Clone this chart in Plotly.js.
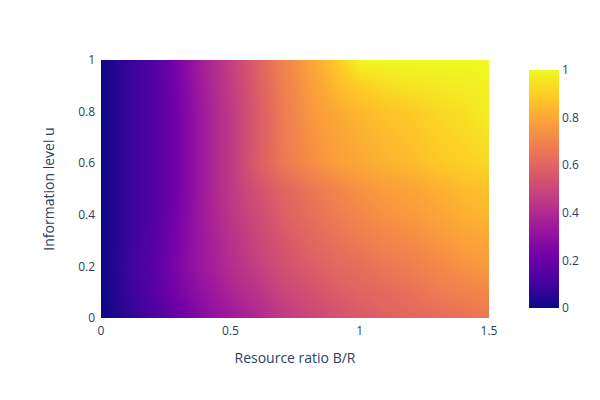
<!DOCTYPE html>
<html>
<head>
<meta charset="utf-8">
<script src="https://cdn.plot.ly/plotly-3.0.1.min.js"></script>
<style>html,body{margin:0;padding:0;background:#fff;}#chart{width:600px;height:400px;}</style>
</head>
<body>
<div id="chart"></div>
<script>
// Resource ratio B/R (x) and information level u (y)
const ratioBR = [0, 0.1, 0.2, 0.3, 0.4, 0.5, 0.6, 0.7, 0.8, 0.9, 1.0, 1.1, 1.2, 1.3, 1.4, 1.5];
const infoU = [0, 0.1, 0.2, 0.3, 0.4, 0.5, 0.6, 0.7, 0.8, 0.9, 1.0];

// rows by u, columns by B/R
const u00 = [0, 0.06, 0.12, 0.20, 0.28, 0.34, 0.39, 0.45, 0.49, 0.53, 0.56, 0.59, 0.61, 0.62, 0.64, 0.66];
const u01 = [0, 0.08, 0.15, 0.24, 0.31, 0.38, 0.43, 0.49, 0.53, 0.57, 0.60, 0.62, 0.64, 0.67, 0.69, 0.71];
const u02 = [0, 0.09, 0.16, 0.26, 0.34, 0.41, 0.47, 0.53, 0.57, 0.61, 0.63, 0.66, 0.68, 0.71, 0.74, 0.76];
const u03 = [0, 0.085, 0.15, 0.25, 0.345, 0.42, 0.49, 0.55, 0.60, 0.64, 0.67, 0.70, 0.72, 0.75, 0.78, 0.80];
const u04 = [0, 0.08, 0.14, 0.24, 0.35, 0.44, 0.51, 0.58, 0.63, 0.67, 0.71, 0.74, 0.76, 0.79, 0.82, 0.84];
const u05 = [0, 0.08, 0.14, 0.23, 0.35, 0.45, 0.53, 0.60, 0.65, 0.70, 0.74, 0.77, 0.79, 0.82, 0.85, 0.87];
const u06 = [0, 0.08, 0.14, 0.23, 0.35, 0.45, 0.57, 0.66, 0.72, 0.77, 0.80, 0.83, 0.85, 0.88, 0.90, 0.92];
const u07 = [0, 0.08, 0.14, 0.23, 0.35, 0.45, 0.56, 0.665, 0.735, 0.785, 0.82, 0.85, 0.87, 0.90, 0.92, 0.945];
const u08 = [0, 0.08, 0.14, 0.23, 0.35, 0.45, 0.56, 0.67, 0.75, 0.80, 0.84, 0.87, 0.89, 0.92, 0.94, 0.97];
const u09 = [0, 0.08, 0.14, 0.24, 0.36, 0.46, 0.57, 0.68, 0.76, 0.84, 0.90, 0.93, 0.95, 0.96, 0.97, 0.98];
const u10 = [0, 0.08, 0.14, 0.25, 0.37, 0.47, 0.58, 0.69, 0.78, 0.88, 0.99, 1.0, 1.0, 1.0, 1.0, 1.0];

const zValues = [u00, u01, u02, u03, u04, u05, u06, u07, u08, u09, u10];

const plasmaColors = ['#0d0887', '#46039f', '#7201a8', '#9c179e', '#bd3786', '#d8576b', '#ed7953', '#fb9f3a', '#fdca26', '#f0f921'];
const plasma = plasmaColors.map((c, i) => [i / (plasmaColors.length - 1), c]);

const trace = {
  type: 'heatmap',
  x: ratioBR,
  y: infoU,
  z: zValues,
  zsmooth: 'best',
  colorscale: plasma,
  zmin: 0,
  zmax: 1,
  colorbar: {x: 1.077, xanchor: 'left', thickness: 30, len: 1, outlinewidth: 0, ticks: '', tickfont: {color: '#2a3f5f'}}
};

const layout = {
  width: 600,
  height: 400,
  margin: {l: 101, r: 111, t: 60, b: 82},
  paper_bgcolor: '#fff',
  plot_bgcolor: '#fff',
  font: {family: '"Open Sans", verdana, arial, sans-serif', size: 12, color: '#2a3f5f'},
  xaxis: {title: {text: 'Resource ratio B/R', standoff: 15}, range: [0, 1.5], tickvals: [0, 0.5, 1, 1.5], ticktext: ['0', '0.5', '1', '1.5'], ticks: '', ticklabelstandoff: 4, showgrid: false, zeroline: false, showline: false},
  yaxis: {title: {text: 'Information level u', standoff: 20}, range: [0, 1], dtick: 0.2, ticks: '', ticklabelstandoff: 5, showgrid: false, zeroline: false, showline: false}
};

Plotly.newPlot('chart', [trace], layout, {displayModeBar: false, staticPlot: true});
</script>
</body>
</html>
